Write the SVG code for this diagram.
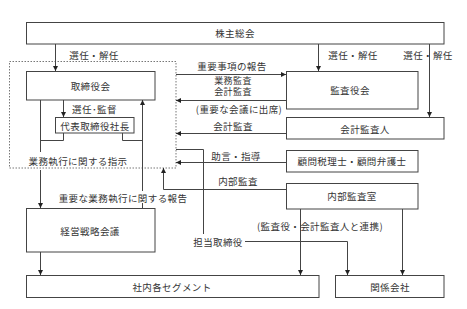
<svg xmlns="http://www.w3.org/2000/svg" width="467" height="309" viewBox="0 0 467 309">
<style>
.box{fill:#fff;stroke:#444;stroke-width:1}
.t{font-family:"Noto Sans CJK JP","Noto Sans",sans-serif;font-size:9.5px;letter-spacing:0.4px;fill:#333;text-anchor:middle;dominant-baseline:central}
.s{font-size:9px}
.c{fill:none;stroke:#444;stroke-width:1}
.a{marker-end:url(#ah)}
</style>
<defs>
<marker id="ah" viewBox="0 0 6 6" refX="6" refY="3" markerWidth="5" markerHeight="5" markerUnits="userSpaceOnUse" orient="auto">
<path d="M0,0 L6,3 L0,6 z" fill="#222"/>
</marker>
</defs>
<rect width="467" height="309" fill="#fff"/>
<g id="board-area">
<rect x="9.5" y="61.5" width="166.5" height="106.5" fill="none" stroke="#777" stroke-width="1" stroke-dasharray="1.5,1.5"/>
</g>
<g id="shareholders"><rect class="box" x="26.5" y="22.5" width="417.5" height="21.5"/><text class="t" x="235" y="33">株主総会</text></g>
<g id="board"><rect class="box" x="26.5" y="71.5" width="128.5" height="28.5"/><text class="t" x="90.5" y="86">取締役会</text></g>
<g id="president"><rect class="box" x="55.5" y="117.5" width="78.5" height="15.5"/><text class="t" x="95" y="125.5">代表取締役社長</text></g>
<g id="strategy"><rect class="box" x="26.5" y="208.5" width="128.5" height="43.5"/><text class="t" x="90" y="231">経営戦略会議</text></g>
<g id="segments"><rect class="box" x="26.5" y="275.5" width="292.5" height="22"/><text class="t" x="172" y="287">社内各セグメント</text></g>
<g id="affiliates"><rect class="box" x="335.5" y="275.5" width="108.5" height="22"/><text class="t" x="390" y="287">関係会社</text></g>
<g id="auditors"><rect class="box" x="286.5" y="71.5" width="131.5" height="37.5"/><text class="t" x="350" y="90">監査役会</text></g>
<g id="accounting-auditor"><rect class="box" x="286.5" y="117.5" width="157.5" height="21.5"/><text class="t" x="365" y="128.5">会計監査人</text></g>
<g id="advisors"><rect class="box" x="286.5" y="150.5" width="131.5" height="21.5"/><text class="t" x="352" y="161">顧問税理士・顧問弁護士</text></g>
<g id="internal-audit"><rect class="box" x="286.5" y="183.5" width="131.5" height="25.5"/><text class="t" x="352" y="196">内部監査室</text></g>
<g id="connectors">
<path class="c a" d="M55.5,44 V71"/>
<path class="c a" d="M318.5,44 V71"/>
<path class="c a" d="M429.5,44 V117"/>
<path class="c a" d="M63.5,100 V117"/>
<path class="c" d="M40.5,100 V152"/>
<path class="c" d="M63.5,133 V140.5 H40.5"/>
<path class="c" d="M122.5,133 V140.5 H142.5"/>
<path class="c a" d="M40.5,170 V208"/>
<path class="c" d="M142.5,203 V208"/>
<path class="c a" d="M142.5,191 V100"/>
<path class="c a" d="M40.5,252 V275"/>
<path class="c a" d="M176,74.5 H286"/>
<path class="c a" d="M286,100.5 H176"/>
<path class="c a" d="M286,133.5 H176"/>
<path class="c a" d="M286,162.5 H176"/>
<path class="c a" d="M286,189.5 H163.5 V168"/>
<path class="c" d="M176,149.5 H203.5 V234"/>
<path class="c a" d="M245,241.5 H347.5 V275"/>
<path class="c a" d="M300.5,209 V275"/>
<path class="c a" d="M402.5,209 V275"/>
</g>
<g id="labels">
<text class="t" x="94" y="55">選任・解任</text>
<text class="t" x="353" y="55">選任・解任</text>
<text class="t" x="428" y="55">選任・解任</text>
<text class="t" x="94.5" y="109">選任･監督</text>
<text class="t" x="78" y="161">業務執行に関する指示</text>
<text class="t" x="123" y="198">重要な業務執行に関する報告</text>
<text class="t" x="232" y="66">重要事項の報告</text>
<text class="t s" x="233" y="80">業務監査</text>
<text class="t s" x="233" y="91.5">会計監査</text>
<text class="t" x="239" y="108.5">(重要な会議に出席)</text>
<text class="t" x="233" y="126">会計監査</text>
<text class="t" x="236" y="155.5">助言・指導</text>
<text class="t" x="238" y="181">内部監査</text>
<text class="t" x="218" y="241.5">担当取締役</text>
<text class="t" x="320" y="226">(監査役・会計監査人と連携)</text>
</g>
</svg>
